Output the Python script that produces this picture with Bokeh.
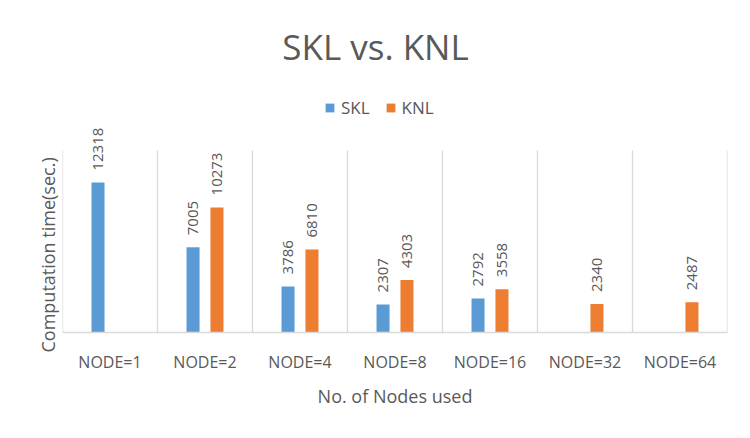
from math import pi
from bokeh.plotting import figure
from bokeh.models import (ColumnDataSource, FactorRange, Range1d, LabelSet, Label,
                          Legend, LegendItem, Title)
from bokeh.transform import dodge
from bokeh.embed import file_html
from bokeh.resources import INLINE
from bokeh.core.properties import value

# ---- data ----
categories = ["NODE=1", "NODE=2", "NODE=4", "NODE=8", "NODE=16", "NODE=32", "NODE=64"]
skl = [12318, 7005, 3786, 2307, 2792, None, None]
knl = [None, 10273, 6810, 4303, 3558, 2340, 2487]
series_names = ["SKL", "KNL"]
title_text = "SKL vs. KNL"
x_title = "No. of Nodes used"
y_title = "Computation time(sec.)"

# ---- layout constants ----
W, H = 750, 438
L, R, B = 62, 23, 106
BASE_PX = H - B            # pixel row of the value axis baseline
AREA_TOP_PX = 150          # pixel row of the top of the bar area
AREA_TOP_VAL = 14950       # value at the top of the bar area
UNITS_PER_PX = AREA_TOP_VAL / (BASE_PX - AREA_TOP_PX)
Y_MAX = BASE_PX * UNITS_PER_PX
CAT_PX = (W - L - R) / len(categories)
FONT = "Open Sans"
TXT = "#595959"
GRID = "#D9D9D9"
C_SKL = "#5B9BD5"
C_KNL = "#ED7D31"
BAR_W = 0.137
OFF = 0.126


def ypx(py):
    return (BASE_PX - py) * UNITS_PER_PX


def xpx(px):
    return (px - L) / CAT_PX


def make_src(vals):
    c = [k for k, v in zip(categories, vals) if v is not None]
    v = [v for v in vals if v is not None]
    return ColumnDataSource(dict(cat=c, val=v, txt=[str(x) for x in v]))


src_skl = make_src(skl)
src_knl = make_src(knl)

p = figure(x_range=FactorRange(factors=categories), y_range=Range1d(0, Y_MAX),
           width=W, height=H, min_border_left=L, min_border_right=R,
           min_border_top=0, min_border_bottom=B,
           output_backend="svg", toolbar_location=None)
p.outline_line_color = None
p.background_fill_color = "white"
p.border_fill_color = "white"
p.ygrid.visible = False
p.xgrid.visible = False
p.yaxis.visible = False

# category separators (at category boundaries, bar area only)
bounds = list(range(len(categories) + 1))
p.segment(x0=bounds, y0=[0] * len(bounds), x1=bounds, y1=[AREA_TOP_VAL] * len(bounds),
          line_color=GRID, line_width=1.3)

r_skl = p.vbar(x=dodge("cat", -OFF, range=p.x_range), top="val", width=BAR_W,
               source=src_skl, fill_color=C_SKL, line_color=None)
r_knl = p.vbar(x=dodge("cat", OFF, range=p.x_range), top="val", width=BAR_W,
               source=src_knl, fill_color=C_KNL, line_color=None)

for src, off in ((src_skl, -OFF), (src_knl, OFF)):
    p.add_layout(LabelSet(x=dodge("cat", off, range=p.x_range), y="val", text="txt",
                          source=src, angle=pi / 2, text_align="left",
                          text_baseline="middle", y_offset=12,
                          text_font=value(FONT), text_font_size="15px",
                          text_color=TXT))

# x axis
ax = p.xaxis[0]
ax.axis_line_color = GRID
ax.axis_line_width = 1.5
ax.major_tick_line_color = None
ax.minor_tick_line_color = None
ax.major_tick_out = 0
ax.major_tick_in = 0
ax.major_label_standoff = 18
ax.major_label_text_font = FONT
ax.major_label_text_font_size = "16px"
ax.major_label_text_color = TXT
ax.axis_label = x_title
ax.axis_label_text_font = FONT
ax.axis_label_text_font_style = "normal"
ax.axis_label_text_font_size = "18px"
ax.axis_label_text_color = TXT
ax.axis_label_standoff = 8

# y-axis title (vertical title in the left panel, starting at y=352 px)
p.add_layout(Title(text=y_title, align="left", offset=-(352 - BASE_PX), standoff=6,
                   text_font=FONT, text_font_size="18px", text_font_style="normal",
                   text_color=TXT), "left")

# chart title
p.add_layout(Label(x=xpx(W / 2), y=ypx(45.5), text=title_text,
                   text_align="center", text_baseline="middle",
                   text_font=FONT, text_font_size="35px", text_color=TXT))

legend = Legend(items=[LegendItem(label=series_names[0], renderers=[r_skl]),
                       LegendItem(label=series_names[1], renderers=[r_knl])],
                orientation="horizontal", location=(262, 213),
                padding=0, margin=0, spacing=15, label_standoff=6,
                glyph_width=11, glyph_height=11, label_height=20,
                label_text_font=FONT, label_text_font_size="17px",
                label_text_color=TXT, border_line_color=None,
                background_fill_alpha=0)
p.add_layout(legend)

open("out.html", "w").write(file_html(p, INLINE))
